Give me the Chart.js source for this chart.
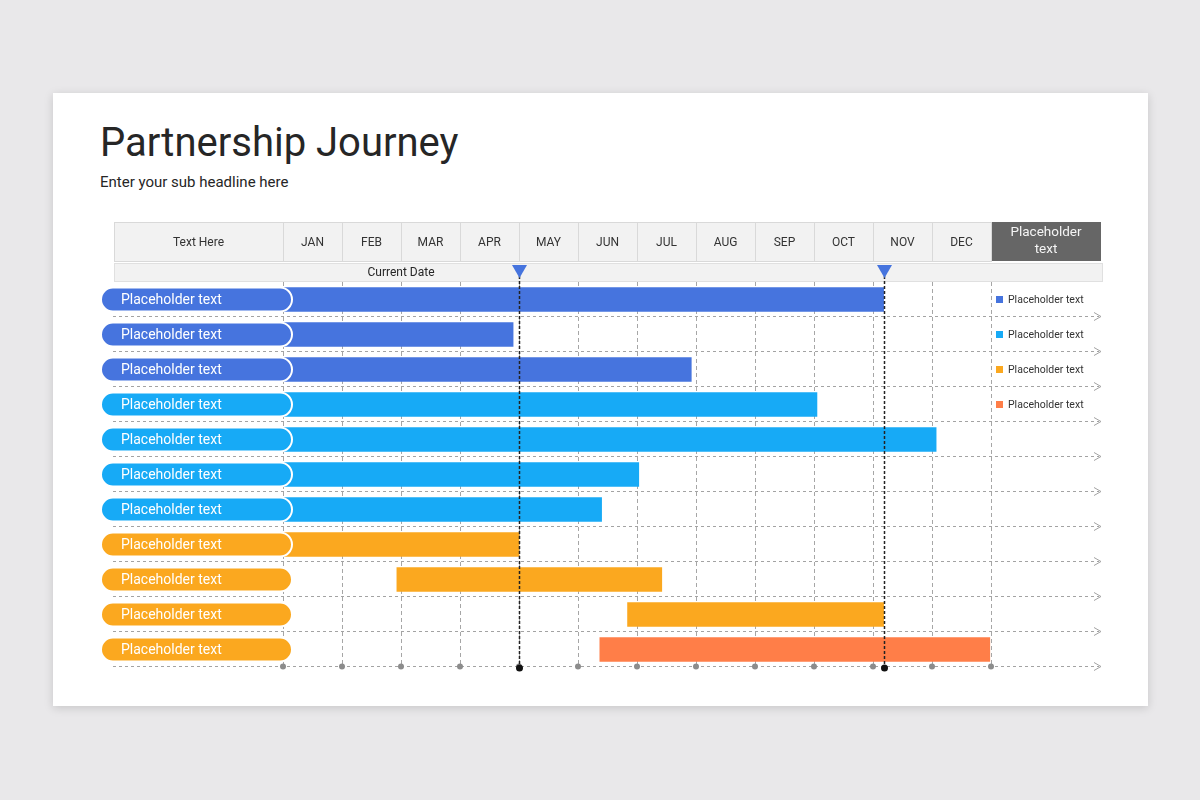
<!DOCTYPE html>
<html>
<head>
<meta charset="utf-8">
<script src="https://cdn.jsdelivr.net/npm/chart.js@4.4.1/dist/chart.umd.min.js"></script>
<style>
  html, body { margin:0; padding:0; width:1200px; height:800px; overflow:hidden; background:#e9e8ea; font-family: Roboto, "Noto Sans", sans-serif; }
  #card { position:absolute; left:53px; top:93px; width:1095px; height:613px; background:#ffffff; box-shadow:0 2px 9px rgba(0,0,0,0.15); }
  #title { position:absolute; left:100px; top:123px; font-size:40px; line-height:40px; color:#262626; font-weight:400; white-space:nowrap; }
  #sub { position:absolute; left:100px; top:175px; font-size:15px; line-height:15px; color:#262626; white-space:nowrap; }
  #wrap { position:absolute; left:0; top:0; width:1200px; height:800px; }
</style>
</head>
<body>
<div id="card"></div>
<div id="title">Partnership Journey</div>
<div id="sub">Enter your sub headline here</div>
<div id="wrap"><canvas id="c" width="1200" height="800"></canvas></div>
<script>
// ---------------- DATA ----------------
const MONTHS = ['JAN','FEB','MAR','APR','MAY','JUN','JUL','AUG','SEP','OCT','NOV','DEC'];
const TASKS = ['Placeholder text','Placeholder text','Placeholder text','Placeholder text','Placeholder text','Placeholder text','Placeholder text','Placeholder text','Placeholder text','Placeholder text','Placeholder text'];
const SERIES_NAMES = ['Placeholder text','Placeholder text','Placeholder text','Placeholder text'];
const HEADER_LEFT = 'Text Here';
const HEADER_RIGHT = ['Placeholder','text'];
const CURRENT_LABEL = 'Current Date';
// month offsets from Jan 1 (0 = start of JAN, 12 = end of DEC)
const blueBars   = [[0,10.18],[0,3.90],[0,6.92],null,null,null,null,null,null,null,null];
const skyBars    = [null,null,null,[0,9.05],[0,11.07],[0,6.03],[0,5.40],null,null,null,null];
const orangeBars = [null,null,null,null,null,null,null,[0,4.0],[1.93,6.42],[5.84,10.18],null];
const coralBars  = [null,null,null,null,null,null,null,null,null,null,[5.37,11.98]];
const currentDates = [4.0, 10.18];

// ---------------- STYLE ----------------
const COLORS = ['#4674de','#17aaf6','#fba81f','#ff7e48'];
const PILL_COLORS = ['#4674de','#4674de','#4674de','#17aaf6','#17aaf6','#17aaf6','#17aaf6','#fba81f','#fba81f','#fba81f','#fba81f'];
const FONT = 'Roboto, "Noto Sans", sans-serif';

const ganttPlugin = {
  id: 'gantt',
  beforeDatasetsDraw(chart) {
    const { ctx, scales: { x, y } } = chart;
    const rowH = y.getPixelForValue(1) - y.getPixelForValue(0);
    ctx.save();
    for (let i = 0; i < TASKS.length; i++) {
      const yy = Math.round(y.getPixelForValue(i) + rowH / 2) - 0.5;
      ctx.strokeStyle = '#a3a3a3';
      ctx.lineWidth = 1;
      ctx.setLineDash([3, 3]);
      ctx.beginPath(); ctx.moveTo(113, yy); ctx.lineTo(1099, yy); ctx.stroke();
      ctx.setLineDash([]);
      ctx.beginPath(); ctx.moveTo(1094, yy - 4); ctx.lineTo(1101, yy); ctx.lineTo(1094, yy + 4); ctx.stroke();
    }
    ctx.restore();
  },
  afterDatasetsDraw(chart) {
    const { ctx, scales: { x, y } } = chart;
    const rowH = y.getPixelForValue(1) - y.getPixelForValue(0);
    const bottomY = Math.round(y.getPixelForValue(TASKS.length - 1) + rowH / 2) - 0.5;
    ctx.save();

    // ---- header row 1 ----
    const hTop = 222, hBot = 262;
    ctx.lineWidth = 1;
    ctx.strokeStyle = '#d9d9d9';
    const cells = [[114, x.getPixelForValue(0), HEADER_LEFT]];
    for (let m = 0; m < MONTHS.length; m++) cells.push([x.getPixelForValue(m), x.getPixelForValue(m + 1), MONTHS[m]]);
    ctx.font = '12px ' + FONT;
    ctx.textAlign = 'center'; ctx.textBaseline = 'middle';
    cells.forEach(([a, b, t]) => {
      ctx.fillStyle = '#f2f2f2';
      ctx.fillRect(a, hTop, b - a, hBot - hTop);
      ctx.strokeRect(Math.round(a) + 0.5, hTop + 0.5, Math.round(b - a), hBot - hTop - 1);
      ctx.fillStyle = '#333333';
      ctx.fillText(t, (a + b) / 2, (hTop + hBot) / 2 + 0.5);
    });
    const r0 = x.getPixelForValue(12);
    ctx.fillStyle = '#666666';
    ctx.fillRect(r0 + 1, hTop, 1101 - r0 - 1, hBot - hTop - 1);
    ctx.fillStyle = '#f4f4f4';
    ctx.font = '13.5px ' + FONT;
    ctx.fillText(HEADER_RIGHT[0], (r0 + 1101) / 2, 233);
    ctx.fillText(HEADER_RIGHT[1], (r0 + 1101) / 2, 249.5);

    // ---- header row 2 (current date) ----
    ctx.fillStyle = '#f2f2f2';
    ctx.fillRect(114, 263, 988, 18.5);
    ctx.strokeStyle = '#e0e0e0';
    ctx.strokeRect(114.5, 263.5, 988, 18);
    ctx.fillStyle = '#262626';
    ctx.font = '12px ' + FONT;
    ctx.fillText(CURRENT_LABEL, (x.getPixelForValue(0) + x.getPixelForValue(currentDates[0])) / 2, 272.5);

    // ---- pills with task labels ----
    for (let i = 0; i < TASKS.length; i++) {
      const cy = y.getPixelForValue(i);
      const h = 24, left = 101, right = 292, r = 12;
      ctx.beginPath();
      ctx.moveTo(left + r, cy - h / 2);
      ctx.lineTo(right - r, cy - h / 2);
      ctx.arc(right - r, cy, r, -Math.PI / 2, Math.PI / 2);
      ctx.lineTo(left + r, cy + h / 2);
      ctx.arc(left + r, cy, r, Math.PI / 2, Math.PI * 1.5);
      ctx.closePath();
      ctx.fillStyle = PILL_COLORS[i];
      ctx.fill();
      ctx.strokeStyle = '#ffffff';
      ctx.lineWidth = 2;
      ctx.stroke();
      ctx.fillStyle = '#ffffff';
      ctx.font = '14px ' + FONT;
      ctx.textAlign = 'left'; ctx.textBaseline = 'middle';
      ctx.fillText(TASKS[i], 121, cy + 0.5);
    }

    // ---- bottom gray dots at month boundaries ----
    ctx.fillStyle = '#8c8c8c';
    for (let m = 0; m <= 12; m++) {
      ctx.beginPath(); ctx.arc(x.getPixelForValue(m), bottomY, 3, 0, Math.PI * 2); ctx.fill();
    }

    // ---- current date markers ----
    currentDates.forEach(d => {
      const px = Math.round(x.getPixelForValue(d)) + 0.5;
      ctx.strokeStyle = '#222222';
      ctx.lineWidth = 1.5;
      ctx.setLineDash([3, 2]);
      ctx.beginPath(); ctx.moveTo(px, 276); ctx.lineTo(px, bottomY); ctx.stroke();
      ctx.setLineDash([]);
      ctx.fillStyle = '#4674de';
      ctx.beginPath(); ctx.moveTo(px - 7.5, 265); ctx.lineTo(px + 7.5, 265); ctx.lineTo(px, 278); ctx.closePath(); ctx.fill();
      ctx.fillStyle = '#111111';
      ctx.beginPath(); ctx.arc(px, bottomY + 1.5, 3.5, 0, Math.PI * 2); ctx.fill();
    });

    // ---- legend ----
    chart.data.datasets.forEach((ds, i) => {
      const cy = y.getPixelForValue(i);
      ctx.fillStyle = ds.backgroundColor;
      ctx.fillRect(996, cy - 3.5, 7, 7);
      ctx.fillStyle = '#333333';
      ctx.font = '10.5px ' + FONT;
      ctx.textAlign = 'left'; ctx.textBaseline = 'middle';
      ctx.fillText(ds.label, 1008, cy + 0.5);
    });
    ctx.restore();
  }
};

const barCommon = { barThickness: 24, grouped: false, borderWidth: 0, borderSkipped: false };

new Chart(document.getElementById('c'), {
  type: 'bar',
  data: {
    labels: TASKS.map((t, i) => t + ' ' + (i + 1)),
    datasets: [
      Object.assign({ label: SERIES_NAMES[0], data: blueBars,   backgroundColor: COLORS[0] }, barCommon),
      Object.assign({ label: SERIES_NAMES[1], data: skyBars,    backgroundColor: COLORS[1] }, barCommon),
      Object.assign({ label: SERIES_NAMES[2], data: orangeBars, backgroundColor: COLORS[2] }, barCommon),
      Object.assign({ label: SERIES_NAMES[3], data: coralBars,  backgroundColor: COLORS[3] }, barCommon)
    ]
  },
  options: {
    indexAxis: 'y',
    responsive: false,
    animation: false,
    devicePixelRatio: 1,
    layout: { padding: { left: 283, right: 209, top: 282, bottom: 133 } },
    plugins: { legend: { display: false }, tooltip: { enabled: false }, title: { display: false } },
    scales: {
      x: {
        type: 'linear', min: 0, max: 12,
        ticks: { display: false, stepSize: 1 },
        grid: { color: '#a6a6a6', lineWidth: 1, drawTicks: false },
        border: { display: false, dash: [4, 3] }
      },
      y: { display: false }
    }
  },
  plugins: [ganttPlugin]
});
</script>
</body>
</html>
